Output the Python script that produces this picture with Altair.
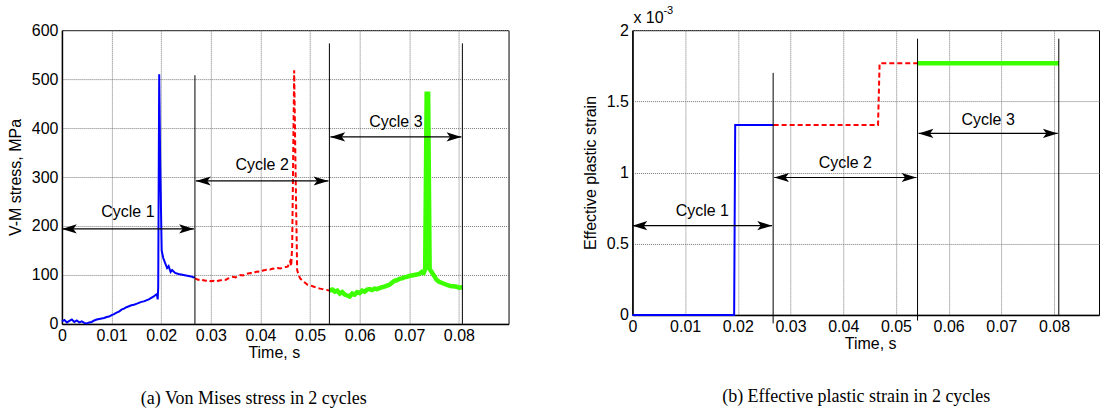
import altair as alt
import pandas as pd

# ---------------- (a) Von Mises stress, MPa ----------------
t_c1 = [0, 0.0005, 0.001, 0.0015, 0.002, 0.0025, 0.003, 0.0035, 0.004, 0.0045,
        0.005, 0.0055, 0.006, 0.0065, 0.007, 0.0075, 0.008, 0.0085, 0.009, 0.0095,
        0.010, 0.0105, 0.011, 0.0115, 0.012, 0.0125, 0.013, 0.0135, 0.014, 0.0145,
        0.015, 0.0155, 0.016, 0.0165, 0.017, 0.0175, 0.018, 0.0185, 0.019, 0.0192,
        0.0193, 0.0194, 0.0196, 0.0198, 0.0201, 0.0204, 0.0208, 0.0212, 0.0215,
        0.0219, 0.0222, 0.0228, 0.0235, 0.024, 0.0245, 0.025, 0.0255, 0.026, 0.0265, 0.0268]
s_c1 = [5, 8, 3, 6, 9, 4, 7, 3, 5, 2,
        1, 3, 4, 7, 9, 10, 11, 12, 14, 15,
        18, 20, 23, 25, 29, 31, 34, 36, 38, 39,
        41, 43, 45, 46, 48, 50, 53, 56, 60, 57,
        50, 75, 510, 330, 150, 135, 124, 114, 118,
        106, 110, 104, 102, 101, 100, 99, 98, 97, 95, 96]

t_c2 = [0.0268, 0.0275, 0.028, 0.0285, 0.029, 0.0295, 0.030, 0.0305, 0.031, 0.0315,
        0.032, 0.0325, 0.033, 0.0335, 0.034, 0.0345, 0.035, 0.0355, 0.036, 0.0365,
        0.037, 0.0375, 0.038, 0.0385, 0.039, 0.0395, 0.040, 0.0405, 0.041, 0.0415,
        0.042, 0.0425, 0.043, 0.0435, 0.044, 0.0445, 0.045, 0.0455, 0.046, 0.0462,
        0.0464, 0.0468, 0.0471, 0.0474, 0.0477, 0.048, 0.0485, 0.049, 0.0495, 0.050,
        0.0505, 0.051, 0.0515, 0.052, 0.0525, 0.053, 0.0535, 0.0539]
s_c2 = [93, 90, 92, 89, 88, 90, 87, 88, 86, 88,
        89, 91, 90, 93, 94, 96, 95, 98, 100, 99,
        102, 103, 104, 103, 106, 107, 106, 109, 110, 112,
        111, 113, 112, 114, 113, 115, 116, 117, 128, 118,
        160, 518, 300, 110, 100, 93, 88, 84, 80, 79,
        77, 75, 73, 72, 71, 70, 69, 68]

t_c3 = [0.0539, 0.0545, 0.055, 0.0555, 0.056, 0.0565, 0.057, 0.0575, 0.058, 0.0585,
        0.059, 0.0595, 0.060, 0.0605, 0.061, 0.0615, 0.062, 0.0625, 0.063, 0.0635,
        0.064, 0.0645, 0.065, 0.0655, 0.066, 0.0665, 0.067, 0.0675, 0.068, 0.0685,
        0.069, 0.0695, 0.070, 0.0705, 0.071, 0.0715, 0.072, 0.0725, 0.0729, 0.0732,
        0.0735, 0.0738, 0.0741, 0.0745, 0.075, 0.0755, 0.076, 0.0765, 0.077, 0.0775,
        0.078, 0.0785, 0.079, 0.0795, 0.080, 0.0807]
s_c3 = [68, 70, 66, 68, 62, 65, 60, 58, 56, 62,
        60, 65, 63, 68, 66, 70, 71, 69, 72, 71,
        73, 75, 76, 78, 80, 84, 88, 89, 92, 93,
        95, 96, 98, 99, 100, 101, 102, 106, 104, 112,
        470, 470, 112, 106, 98, 90, 86, 84, 82, 80,
        78, 77, 77, 76, 74, 75]

stress_bound_t = [0.0268, 0.0539, 0.0807]
stress_bound_top = [508, 573, 573]
stress_arrow_start = [0.0, 0.0270, 0.0541]
stress_arrow_end = [0.0266, 0.0537, 0.0805]
stress_arrow_y = [194, 292, 382]
stress_label_y = [228, 325, 412]
cycle_labels = ["Cycle 1", "Cycle 2", "Cycle 3"]

# ---------------- (b) Effective plastic strain (x 1e-3) ----------------
t_e1 = [0, 0.0193, 0.0195, 0.0268]
e_e1 = [0, 0, 1.333, 1.333]
t_e2 = [0.0268, 0.0466, 0.0469, 0.0541]
e_e2 = [1.333, 1.333, 1.767, 1.767]
t_e3 = [0.0541, 0.0809]
e_e3 = [1.767, 1.767]

strain_bound_t = [0.0267, 0.0541, 0.0809]
strain_bound_bottom = [-0.06, -0.04, 0]
strain_bound_top = [1.70, 1.94, 1.94]
strain_arrow_start = [0.0, 0.0269, 0.0543]
strain_arrow_end = [0.0265, 0.0539, 0.0807]
strain_arrow_y = [0.627, 0.965, 1.275]
strain_label_y = [0.73, 1.07, 1.37]

x_ticks = [0, 0.01, 0.02, 0.03, 0.04, 0.05, 0.06, 0.07, 0.08]

FONT = "Liberation Sans"
BLUE, RED, GREEN = "#0000ff", "#ff0000", "#3cff00"
RIGHT_HEAD = "M0,0 L-2.6,-0.8 L-2,0 L-2.6,0.8 Z"
LEFT_HEAD = "M0,0 L2.6,-0.8 L2,0 L2.6,0.8 Z"


def build(t_lists, v_lists, bound_t, bound_lo, bound_hi, a_start, a_end, a_y, l_y,
          xdom, ydom, yvals, yfmt, ytitle, title_x, caption, cap_x, cap_y, w, h, extra=None):
    xs = alt.Scale(domain=xdom, nice=False, zero=False)
    ys = alt.Scale(domain=ydom, nice=False, zero=False)
    xax = alt.Axis(values=x_ticks, format="~g", title="Time, s", titleX=title_x,
                   titleAlign="center", titleAnchor="start", titlePadding=1)
    yax = alt.Axis(values=yvals, format=yfmt, title=ytitle, titlePadding=8)
    styles = [dict(color=BLUE, strokeWidth=2),
              dict(color=RED, strokeWidth=2, strokeDash=[5, 3]),
              dict(color=GREEN, strokeWidth=4.5)]
    layers = []
    for i, (tt, vv) in enumerate(zip(t_lists, v_lists)):
        df = pd.DataFrame({"t": tt, "v": vv, "o": list(range(len(tt)))})
        if i == 0:
            enc = dict(x=alt.X("t:Q", scale=xs, axis=xax), y=alt.Y("v:Q", scale=ys, axis=yax),
                       order="o:Q")
        else:
            enc = dict(x=alt.X("t:Q", scale=xs), y=alt.Y("v:Q", scale=ys), order="o:Q")
        layers.append(alt.Chart(df).mark_line(clip=False, **styles[i]).encode(**enc))
    bdf = pd.DataFrame({"t": bound_t, "lo": bound_lo, "hi": bound_hi})
    layers.append(alt.Chart(bdf).mark_rule(color="black", strokeWidth=1).encode(
        x=alt.X("t:Q", scale=xs), y=alt.Y("lo:Q", scale=ys), y2="hi:Q"))
    adf = pd.DataFrame({"a": a_start, "b": a_end, "y": a_y, "ly": l_y, "lab": cycle_labels,
                        "m": [(p + q) / 2 for p, q in zip(a_start, a_end)]})
    layers.append(alt.Chart(adf).mark_rule(color="black", strokeWidth=1.2).encode(
        x=alt.X("a:Q", scale=xs), x2="b:Q", y=alt.Y("y:Q", scale=ys)))
    layers.append(alt.Chart(adf).mark_point(shape=LEFT_HEAD, filled=True, color="black",
                                            opacity=1, size=130).encode(
        x=alt.X("a:Q", scale=xs), y=alt.Y("y:Q", scale=ys)))
    layers.append(alt.Chart(adf).mark_point(shape=RIGHT_HEAD, filled=True, color="black",
                                            opacity=1, size=130).encode(
        x=alt.X("b:Q", scale=xs), y=alt.Y("y:Q", scale=ys)))
    layers.append(alt.Chart(adf).mark_text(font=FONT, fontSize=16, color="black",
                                           baseline="middle").encode(
        x=alt.X("m:Q", scale=xs), y=alt.Y("ly:Q", scale=ys), text="lab:N"))
    layers.append(alt.Chart(pd.DataFrame({"c": [caption]})).mark_text(
        font="Liberation Serif", fontSize=18, color="black", baseline="middle").encode(
        x=alt.value(cap_x), y=alt.value(cap_y), text="c:N"))
    if extra:
        layers.extend(extra)
    return alt.layer(*layers).properties(width=w, height=h)


exp_df = pd.DataFrame({"s": ["x 10"]})
sup_df = pd.DataFrame({"s": ["-3"]})
exp_layers = [
    alt.Chart(exp_df).mark_text(font=FONT, fontSize=16, align="left", baseline="alphabetic",
                                color="black").encode(x=alt.value(1), y=alt.value(-7), text="s:N"),
    alt.Chart(sup_df).mark_text(font=FONT, fontSize=11, align="left", baseline="alphabetic",
                                color="black").encode(x=alt.value(31), y=alt.value(-16), text="s:N"),
]

left = build([t_c1, t_c2, t_c3], [s_c1, s_c2, s_c3], stress_bound_t, [0, 0, 0], stress_bound_top,
             stress_arrow_start, stress_arrow_end, stress_arrow_y, stress_label_y,
             [0, 0.09], [0, 600], [0, 100, 200, 300, 400, 500, 600], "d", "V-M stress, MPa",
             212, "(a) Von Mises stress in 2 cycles", 192, 369, 447, 294)

right = build([t_e1, t_e2, t_e3], [e_e1, e_e2, e_e3], strain_bound_t, strain_bound_bottom,
              strain_bound_top, strain_arrow_start, strain_arrow_end, strain_arrow_y,
              strain_label_y, [0, 0.08853], [0, 2], [0, 0.5, 1, 1.5, 2], "~g",
              "Effective plastic strain", 238, "(b) Effective plastic strain in 2 cycles",
              224, 367, 467, 285, extra=exp_layers)

chart = alt.hconcat(left, right, spacing=72).properties(
    padding={"left": 6, "top": 4, "right": 0, "bottom": 0}
).configure_view(stroke="black", strokeWidth=1).configure_axis(
    labelFont=FONT, labelFontSize=16, labelColor="black",
    titleFont=FONT, titleFontSize=16, titleFontWeight="normal", titleColor="black",
    grid=True, gridColor="#777", gridDash=[1, 1], gridWidth=1, gridOpacity=1,
    ticks=False, labelPadding=4, domainColor="black", domainWidth=1.5,
).configure_axisX(labelFlush=False).configure_axisY(labelFlush=False)

chart.save("out.html", embed_options={"renderer": "svg", "actions": False})
